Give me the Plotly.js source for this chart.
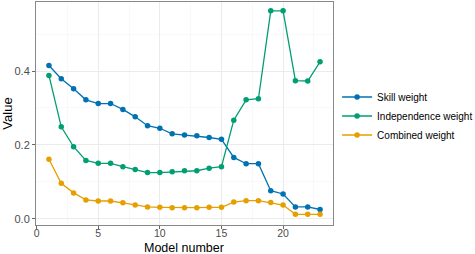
<!DOCTYPE html>
<html><head><meta charset="utf-8">
<script src="https://cdn.plot.ly/plotly-3.0.1.min.js"></script>
<style>html,body{margin:0;padding:0;background:#fff}#chart{width:475px;height:254px}</style>
</head><body><div id="chart"></div>
<script>
const modelNumber = [1,2,3,4,5,6,7,8,9,10,11,12,13,14,15,16,17,18,19,20,21,22,23];
const skillWeight = [0.415,0.379,0.352,0.322,0.312,0.312,0.296,0.276,0.252,0.245,0.230,0.227,0.225,0.220,0.215,0.166,0.149,0.149,0.076,0.067,0.032,0.032,0.025];
const independenceWeight = [0.388,0.249,0.195,0.158,0.150,0.150,0.141,0.133,0.125,0.125,0.127,0.130,0.130,0.137,0.141,0.267,0.322,0.325,0.563,0.563,0.374,0.373,0.425];
const combinedWeight = [0.161,0.096,0.070,0.051,0.048,0.048,0.043,0.037,0.032,0.031,0.030,0.030,0.030,0.031,0.031,0.045,0.049,0.049,0.044,0.037,0.012,0.012,0.012];
const seriesNames = ["Skill weight","Independence weight","Combined weight"];
const seriesColors = ["#0072B2","#009E73","#E69F00"];
const seriesData = [skillWeight, independenceWeight, combinedWeight];
const xTitle = "Model number";

const traces = seriesData.map((d,i)=>({
  x: modelNumber, y: d, name: seriesNames[i], type:'scatter', mode:'lines+markers',
  line:{color:seriesColors[i], width:1.3}, marker:{color:seriesColors[i], size:5.5}
}));

const layout = {
  width:475, height:254,
  margin:{l:36,r:2,t:2,b:2, autoexpand:false},
  paper_bgcolor:'#fff', plot_bgcolor:'#fff',
  font:{family:'Liberation Sans, Arial, sans-serif', color:'#000'},
  xaxis:{domain:[0,0.6796], range:[-0.05,24.05], tickvals:[0,5,10,15,20], ticks:'outside', ticklen:3, tickcolor:'#666',
    tickfont:{size:10.5,color:'#4d4d4d'}, ticklabelstandoff:-5, showgrid:true, gridcolor:'#ebebeb', gridwidth:1,
    minor:{tickvals:[2.5,7.5,12.5,17.5,22.5], showgrid:true, gridcolor:'#f5f5f5', gridwidth:0.6},
    zeroline:false, showline:true, linecolor:'#888', linewidth:1, mirror:true, automargin:false},
  yaxis:{domain:[0.108,1], range:[-0.017,0.587], tickvals:[0,0.2,0.4], ticktext:['0.0','0.2','0.4'], ticks:'outside', ticklen:3, tickcolor:'#666',
    tickfont:{size:11,color:'#4d4d4d'}, showgrid:true, gridcolor:'#ebebeb', gridwidth:1,
    minor:{tickvals:[0.1,0.3,0.5], showgrid:true, gridcolor:'#f5f5f5', gridwidth:0.6},
    zeroline:false, showline:true, linecolor:'#888', linewidth:1, mirror:true, automargin:false,
    title:{text:'Value', font:{size:13,color:'#000'}, standoff:4}},
  annotations:[{text:xTitle, xref:'paper', yref:'paper', x:0.3398, y:0.018, xanchor:'center', yanchor:'middle',
    showarrow:false, borderpad:0, font:{size:12.5,color:'#000'}}],
  showlegend:true,
  legend:{x:0.689, xanchor:'left', y:0.544, yanchor:'middle', font:{size:10,color:'#000'},
    bgcolor:'rgba(0,0,0,0)', tracegroupgap:0}
};
Plotly.newPlot('chart', traces, layout, {displayModeBar:false, staticPlot:true});
</script></body></html>
